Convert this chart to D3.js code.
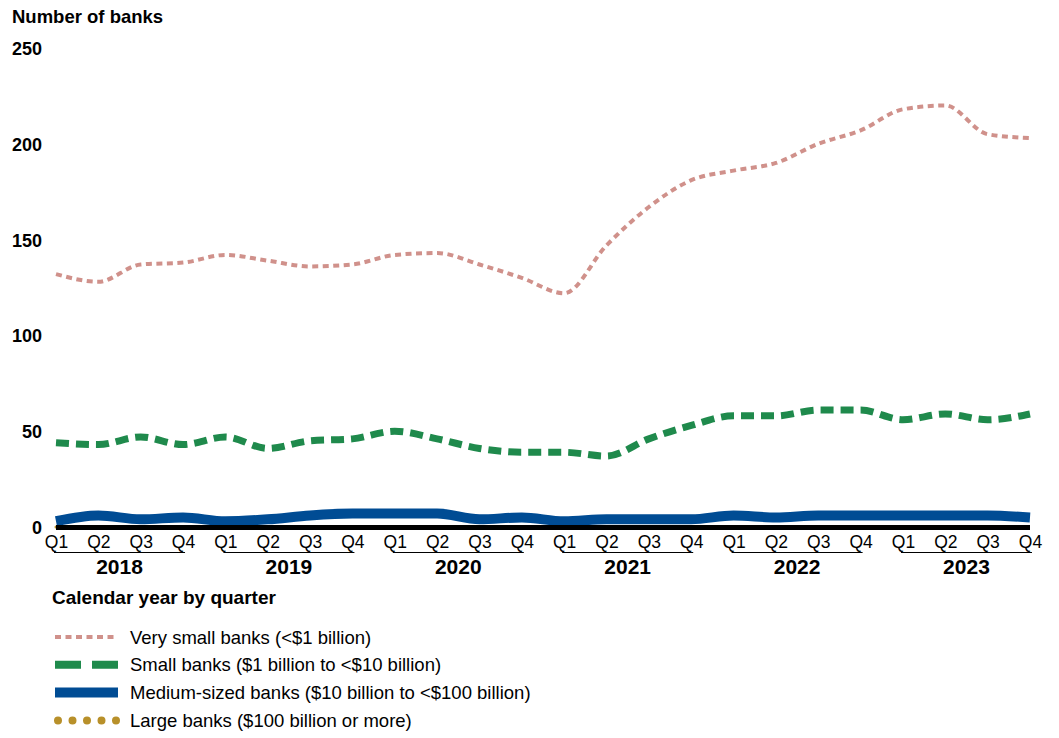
<!DOCTYPE html>
<html>
<head>
<meta charset="utf-8">
<script src="https://cdn.jsdelivr.net/npm/d3@7"></script>
<style>
  body { margin: 0; background: #fff; }
  svg { font-family: "Liberation Sans", Arial, sans-serif; }
</style>
</head>
<body>
<svg id="chart" width="1059" height="738"></svg>
<script>
"use strict";

// data
const years    = ["2018", "2019", "2020", "2021", "2022", "2023"];
const quarters = ["Q1", "Q2", "Q3", "Q4"];
const yTicks   = [0, 50, 100, 150, 200, 250];

const verySmall = [132, 128, 137, 138, 142, 139, 136, 137, 142, 143, 137, 130,
                   122, 147, 167, 181, 186, 190, 200, 207, 218, 220, 205, 203];
const small     = [44, 43, 47, 43, 47, 41, 45, 46, 50, 46, 41, 39,
                   39, 37, 46, 53, 58, 58, 61, 61, 56, 59, 56, 59];
const medium    = [3, 6, 4, 5, 3, 4, 6, 7, 7, 7, 4, 5,
                   3, 4, 4, 4, 6, 5, 6, 6, 6, 6, 6, 5];
const large     = [0, 0, 0, 0, 0, 0, 0, 0, 0, 0, 0, 0,
                   0, 0, 0, 0, 0, 0, 0, 0, 0, 0, 0, 0];

const seriesNames = [
  "Very small banks (<$1 billion)",
  "Small banks ($1 billion to <$10 billion)",
  "Medium-sized banks ($10 billion to <$100 billion)",
  "Large banks ($100 billion or more)"
];

const periods = years.flatMap((y) => quarters.map((q) => y + " " + q));

// styles per series
const styles = [
  { color: "#d0918b", width: 4,  dash: "6,4.5",  legendDash: "6,4.5",  legendWidth: 4,  cap: "butt" },
  { color: "#1f8a4c", width: 7,  dash: "13,7",   legendDash: "26,11",  legendWidth: 8,  cap: "butt" },
  { color: "#004c94", width: 10, dash: null,     legendDash: null,     legendWidth: 10, cap: "butt" },
  { color: "#b8902a", width: 3,  dash: "0,14.5", legendDash: "0,14.5", legendWidth: 8,  cap: "round" }
];

const series = [verySmall, small, medium, large].map((values, i) => ({
  name: seriesNames[i],
  style: styles[i],
  values: values.map((v, j) => ({ d: periods[j], v: v }))
}));

// scales
const x = d3.scalePoint().domain(periods).range([56, 1030]);
const y = d3.scaleLinear().domain([0, 250]).range([527, 48]);

const svg = d3.select("#chart");

// title
svg.append("text")
    .attr("x", 12)
    .attr("y", 23)
    .style("font-weight", "bold")
    .style("font-size", "18.5px")
    .text("Number of banks");

// y-axis labels
const yAxis = d3.axisLeft(y).tickValues(yTicks).tickSize(0).tickPadding(0);
svg.append("g")
    .attr("transform", "translate(42,0)")
    .call(yAxis)
    .call((g) => g.select(".domain").remove())
    .selectAll("text")
      .attr("dy", "0.36em")
      .style("font-size", "18px")
      .style("font-weight", "bold")
      .style("font-family", "'Liberation Sans', Arial, sans-serif")
      .style("fill", "#000");

// lines
const line = d3.line()
    .curve(d3.curveMonotoneX)
    .x((d) => x(d.d))
    .y((d) => y(d.v));

// large banks first, the zero baseline covers it
[3, 2, 1, 0].forEach((i) => {
  const s = series[i];
  svg.append("path")
      .datum(s.values)
      .attr("d", line)
      .attr("fill", "none")
      .attr("stroke", s.style.color)
      .attr("stroke-width", s.style.width)
      .attr("stroke-linecap", s.style.cap)
      .attr("stroke-linejoin", "round")
      .attr("stroke-dasharray", s.style.dash);
});

// zero baseline
svg.append("line")
    .attr("x1", x.range()[0])
    .attr("x2", x.range()[1])
    .attr("y1", y(0) + 0.5)
    .attr("y2", y(0) + 0.5)
    .attr("stroke", "#000")
    .attr("stroke-width", 5);

// x-axis quarter labels
const xAxis = d3.axisBottom(x).tickSize(0).tickPadding(9).tickFormat((d) => d.split(" ")[1]);
svg.append("g")
    .attr("transform", "translate(0," + y(0) + ")")
    .call(xAxis)
    .call((g) => g.select(".domain").remove())
    .selectAll("text")
      .style("font-size", "17.5px")
      .style("font-family", "'Liberation Sans', Arial, sans-serif")
      .style("fill", "#000");

// year groups
const yearG = svg.selectAll(".year")
    .data(years)
  .enter().append("g")
    .attr("class", "year");

yearG.append("line")
    .attr("x1", (d) => x(d + " Q1") - 2)
    .attr("x2", (d) => x(d + " Q4") + 2)
    .attr("y1", 552.5)
    .attr("y2", 552.5)
    .attr("stroke", "#000")
    .attr("stroke-width", 1);

yearG.append("text")
    .attr("x", (d) => (x(d + " Q1") + x(d + " Q4")) / 2)
    .attr("y", 574)
    .attr("text-anchor", "middle")
    .style("font-size", "21px")
    .style("font-weight", "bold")
    .text((d) => d);

// x-axis title
svg.append("text")
    .attr("x", 52)
    .attr("y", 604)
    .style("font-size", "19px")
    .style("font-weight", "bold")
    .text("Calendar year by quarter");

// legend
const legend = svg.selectAll(".legend")
    .data(series)
  .enter().append("g")
    .attr("class", "legend")
    .attr("transform", (d, i) => "translate(0," + (637 + i * 27.8) + ")");

legend.append("line")
    .attr("x1", (d) => d.style.cap === "round" ? 58 : 55)
    .attr("x2", 118)
    .attr("y1", 0)
    .attr("y2", 0)
    .attr("stroke", (d) => d.style.color)
    .attr("stroke-width", (d) => d.style.legendWidth)
    .attr("stroke-linecap", (d) => d.style.cap)
    .attr("stroke-dasharray", (d) => d.style.legendDash);

legend.append("text")
    .attr("x", 130)
    .attr("y", 6.5)
    .style("font-size", "18.5px")
    .text((d) => d.name);
</script>
</body>
</html>
